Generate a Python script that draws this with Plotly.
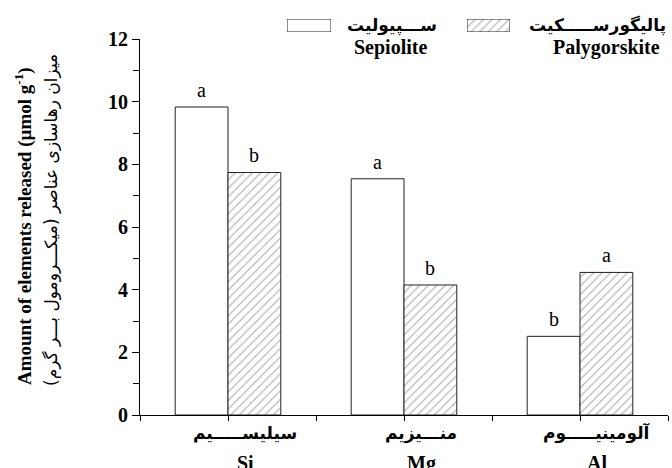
import plotly.graph_objects as go

# ---- data ----
categories_en = ["Si", "Mg", "Al"]
categories_fa = ["سیلیســـــیم", "منـــیزیم", "آلومینیـــــوم"]
sepiolite = [9.83, 7.54, 2.51]
palygorskite = [7.74, 4.15, 4.55]
letters_sep = ["a", "a", "b"]
letters_paly = ["b", "b", "a"]
series_en = ["Sepiolite", "Palygorskite"]
series_fa = ["ســـپیولیت", "پالیگورســـــکیت"]
y_ticks = [0, 2, 4, 6, 8, 10, 12]

W, H = 672, 468
ML, MR, MT, MB = 140, 4, 10, 53
PW, PH = W - ML - MR, H - MT - MB


def px(x):
    return (x - ML) / PW


def py(y):
    return (H - MB - y) / PH


SERIF = "Liberation Serif"
FA = "DejaVu Sans"
xpos = list(range(len(categories_en)))
BW = 0.3
hatch = dict(shape="/", size=6, solidity=0.18, fgcolor="#555", bgcolor="white")
outline = dict(color="#222", width=1)

fig = go.Figure()
fig.add_trace(go.Bar(x=xpos, y=sepiolite, width=BW, offset=-BW, name=series_en[0],
                     marker=dict(color="white", line=outline), showlegend=False))
fig.add_trace(go.Bar(x=xpos, y=palygorskite, width=BW, offset=0, name=series_en[1],
                     marker=dict(color="white", line=outline, pattern=hatch), showlegend=False))

# legend swatches as tiny bars on their own hidden axes
fig.add_trace(go.Bar(x=[0], y=[1], width=1, offset=-0.5, xaxis="x2", yaxis="y2", showlegend=False,
                     marker=dict(color="white", line=outline), hoverinfo="skip"))
fig.add_trace(go.Bar(x=[0], y=[1], width=1, offset=-0.5, xaxis="x3", yaxis="y3", showlegend=False,
                     marker=dict(color="white", line=outline, pattern=hatch), hoverinfo="skip"))


def note(x, y, text, font, **kw):
    d = dict(x=x, y=y, xref="paper", yref="paper", text=text, showarrow=False,
             xanchor="center", yanchor="middle", font=font)
    d.update(kw)
    return d


ann = []
for i in xpos:
    ann.append(dict(x=i - BW / 2, y=sepiolite[i], text=letters_sep[i], showarrow=False,
                    xanchor="center", yanchor="bottom", yshift=4,
                    font=dict(family=SERIF, size=20, color="black")))
    ann.append(dict(x=i + BW / 2, y=palygorskite[i], text=letters_paly[i], showarrow=False,
                    xanchor="center", yanchor="bottom", yshift=4,
                    font=dict(family=SERIF, size=20, color="black")))
    ann.append(dict(x=i, y=0, xref="x", yref="paper", text=categories_fa[i], showarrow=False,
                    xanchor="center", yanchor="middle", yshift=-18, xshift=17,
                    font=dict(family=FA, size=17, color="black", weight="bold")))
    ann.append(dict(x=i, y=0, xref="x", yref="paper", text=categories_en[i],
                    showarrow=False, xanchor="center", yanchor="middle", yshift=-48, xshift=17,
                    font=dict(family=SERIF, size=20, color="black", weight="bold")))

# y title
ann.append(note(px(23), py(226), "Amount of elements released (µmol g<sup>-1</sup>)",
                dict(family=SERIF, size=19, color="black", weight="bold"), textangle=-90))
ann.append(note(px(51), py(220), "میزان رهاسازی عناصر (میکـــرومول بـــر گرم)",
                dict(family=FA, size=17, color="black"), textangle=-90))

# legend texts
ann.append(note(px(392), py(25), series_fa[0], dict(family=FA, size=17, color="black", weight="bold")))
ann.append(note(px(390), py(48), series_en[0], dict(family=SERIF, size=20, color="black", weight="bold")))
ann.append(note(px(597), py(25), series_fa[1], dict(family=FA, size=17, color="black", weight="bold")))
ann.append(note(px(606), py(48), series_en[1], dict(family=SERIF, size=20, color="black", weight="bold")))

hidden = dict(visible=False, fixedrange=True, automargin=False)
ydom = [0, py(39)]
fig.update_layout(
    width=W, height=H, autosize=False,
    margin=dict(l=ML, r=MR, t=MT, b=MB, pad=0, autoexpand=False),
    paper_bgcolor="white", plot_bgcolor="white",
    barmode="overlay",
    showlegend=False,
    xaxis=dict(range=[-0.5, 2.5], domain=[0, 1], showline=True, linecolor="black", linewidth=1,
               ticks="outside", ticklen=5, tickcolor="black", automargin=False,
               tickvals=[-0.5, 0, 0.5, 1, 1.5, 2, 2.5], showticklabels=False,
               showgrid=False, zeroline=False),
    yaxis=dict(range=[0, 12], domain=ydom, showline=True, linecolor="black", linewidth=1,
               ticks="outside", ticklen=7, tickcolor="black", tickvals=y_ticks, automargin=False,
               tickfont=dict(family=SERIF, size=20, color="black", weight="bold"),
               minor=dict(dtick=1, ticks="outside", ticklen=6, tickcolor="black"),
               showgrid=False, zeroline=False),
    xaxis2=dict(domain=[px(287), px(331)], range=[-0.5, 0.5], anchor="y2", **hidden),
    yaxis2=dict(domain=[py(32), py(19)], range=[0, 1], anchor="x2", **hidden),
    xaxis3=dict(domain=[px(467), px(510)], range=[-0.5, 0.5], anchor="y3", **hidden),
    yaxis3=dict(domain=[py(32), py(19)], range=[0, 1], anchor="x3", **hidden),
    annotations=ann,
)

fig.write_html("out.html", config={"displayModeBar": False},
               post_script="document.body.style.margin='0';document.body.style.padding='0';")
